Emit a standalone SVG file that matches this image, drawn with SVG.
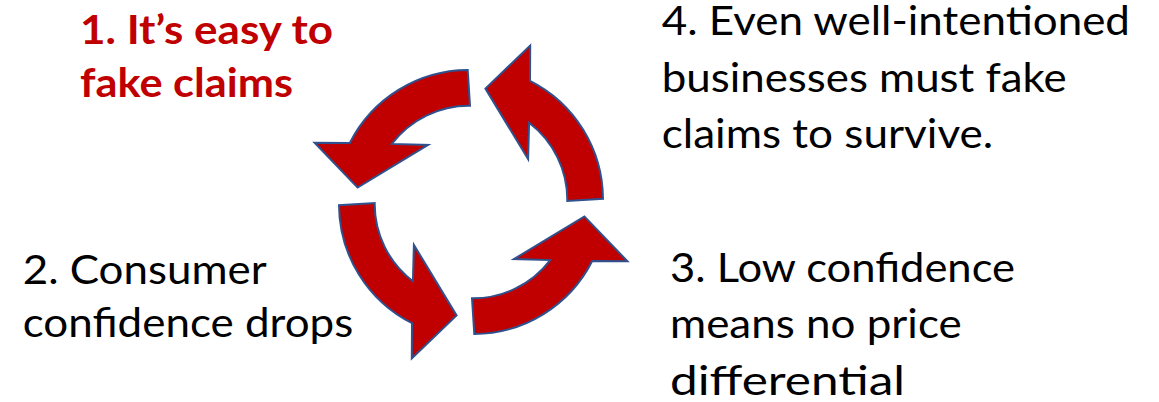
<svg xmlns="http://www.w3.org/2000/svg" xmlns:xlink="http://www.w3.org/1999/xlink" width="1159" height="402" viewBox="0 0 1159 402">
  <style>
    .arrow { fill: #C00000; stroke: #2F528F; stroke-width: 2; stroke-linejoin: miter; }
    .lbl { font-family: Lato, "Open Sans", sans-serif; font-size: 40px; fill: #000000; }
    .lbl-red { font-family: Lato, "Open Sans", sans-serif; font-size: 40px; font-weight: bold; fill: #C00000; }
  </style>
  <defs>
    <path id="arr" d="M -3.3,-132 A 133 133 0 0 0 -121.2,-59 L -156.4,-59.2 L -113.4,-14.4 L -42.9,-57.1 L -79.2,-58.1 A 97 97 0 0 1 -1,-96.3 Z"/>
  </defs>
  <rect width="1159" height="402" fill="#FFFFFF"/>
  <g id="connectors">
    <use xlink:href="#arr" href="#arr" class="arrow" transform="translate(471,202)"/>
    <use xlink:href="#arr" href="#arr" class="arrow" transform="translate(471,202) rotate(-90)"/>
    <use xlink:href="#arr" href="#arr" class="arrow" transform="translate(471,202) rotate(180)"/>
    <use xlink:href="#arr" href="#arr" class="arrow" transform="translate(471,202) rotate(90)"/>
  </g>
  <g id="node1">
    <text class="lbl-red" x="80" y="43.5" textLength="253" lengthAdjust="spacingAndGlyphs">1. It’s easy to</text>
    <text class="lbl-red" x="80" y="97" textLength="213" lengthAdjust="spacingAndGlyphs">fake claims</text>
  </g>
  <g id="node2">
    <text class="lbl" x="22.7" y="283.5" textLength="244" lengthAdjust="spacingAndGlyphs">2. Consumer</text>
    <text class="lbl" x="22.7" y="337" textLength="330.6" lengthAdjust="spacingAndGlyphs">confidence drops</text>
  </g>
  <g id="node3">
    <text class="lbl" x="670" y="281.7" textLength="345" lengthAdjust="spacingAndGlyphs">3. Low confidence</text>
    <text class="lbl" x="670" y="338.3" textLength="291.7" lengthAdjust="spacingAndGlyphs">means no price</text>
    <text class="lbl" x="670" y="395" textLength="235" lengthAdjust="spacingAndGlyphs">differential</text>
  </g>
  <g id="node4">
    <text class="lbl" x="661.7" y="35" textLength="468.3" lengthAdjust="spacingAndGlyphs">4. Even well-intentioned</text>
    <text class="lbl" x="661.7" y="91.7" textLength="405" lengthAdjust="spacingAndGlyphs">businesses must fake</text>
    <text class="lbl" x="661.7" y="148.3" textLength="331.6" lengthAdjust="spacingAndGlyphs">claims to survive.</text>
  </g>
</svg>
